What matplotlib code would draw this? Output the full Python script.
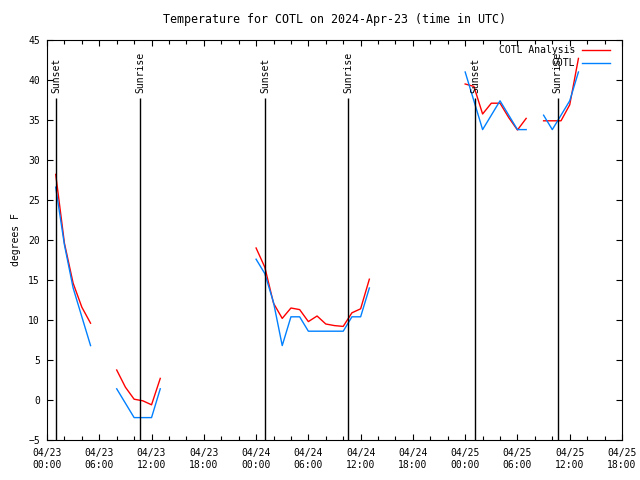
import numpy as np
import matplotlib
matplotlib.use("Agg")
import matplotlib.pyplot as plt
from matplotlib.lines import Line2D

nan = np.nan

# hours since 04/23 00:00 UTC
hours = np.arange(0, 62)

# COTL Analysis (red)
analysis = [nan, 28.2, 19.6, 14.6, 11.6, 9.6, nan, nan,
            3.75, 1.6, 0.1, -0.1, -0.6, 2.7,
            nan, nan, nan, nan, nan, nan, nan, nan, nan, nan,
            19.0, 16.6, 12.1, 10.2, 11.5, 11.3, 9.8, 10.5, 9.5, 9.3, 9.2, 10.9, 11.4, 15.1,
            nan, nan, nan, nan, nan, nan, nan, nan, nan, nan,
            39.5, 39.2, 35.75, 37.1, 37.1, 35.3, 33.75, 35.2,
            nan,
            34.9, 34.9, 34.9, 36.9, 42.7]

# COTL observations (blue)
obs = [nan, 26.6, 19.4, 14.0, 10.4, 6.8, nan, nan,
       1.4, -0.4, -2.2, -2.2, -2.2, 1.4,
       nan, nan, nan, nan, nan, nan, nan, nan, nan, nan,
       17.6, 15.8, 12.2, 6.8, 10.4, 10.4, 8.6, 8.6, 8.6, 8.6, 8.6, 10.4, 10.4, 14.0,
       nan, nan, nan, nan, nan, nan, nan, nan, nan, nan,
       41.0, 37.4, 33.8, 35.6, 37.4, 35.6, 33.8, 33.8,
       nan,
       35.6, 33.8, 35.6, 37.4, 41.0]

sun_times = [1.05, 10.68, 25.07, 34.6, 49.15, 58.62]
sun_labels = ["Sunset", "Sunrise", "Sunset", "Sunrise", "Sunset", "Sunrise"]

xtick_pos = list(range(0, 67, 6))
xtick_labels = ["04/23\n00:00", "04/23\n06:00", "04/23\n12:00", "04/23\n18:00",
                "04/24\n00:00", "04/24\n06:00", "04/24\n12:00", "04/24\n18:00",
                "04/25\n00:00", "04/25\n06:00", "04/25\n12:00", "04/25\n18:00"]

series = [("COTL Analysis", analysis, "#ff0000"), ("COTL", obs, "#0080ff")]

plt.rcParams['font.family'] = ['DejaVu Sans Mono']
plt.rcParams['font.size'] = 7

fig = plt.figure(figsize=(6.4, 4.8), dpi=100)
ax = fig.add_axes([47/640, 40/480, 575/640, 400/480])

for name, vals, col in series:
    ax.plot(hours, vals, color=col, lw=1)

# sunrise / sunset markers
ax.vlines(sun_times, -5, 37.75, color="black", lw=1)
for t, lab in zip(sun_times, sun_labels):
    ax.text(t, 38.4, lab, rotation=90, ha="center", va="bottom")

ax.set_xlim(0, 66)
ax.set_ylim(-5, 45)
ax.set_xticks(xtick_pos)
ax.set_xticklabels(xtick_labels)
ax.set_xticks(np.arange(0, 67, 2), minor=True)
ax.set_yticks(np.arange(-5, 46, 5))
ax.tick_params(which="both", direction="in", top=True, right=True, color="black")
ax.tick_params(which="major", length=4.5, width=0.8)
ax.tick_params(which="minor", length=3, width=0.8)
ax.tick_params(axis="x", pad=6)
ax.tick_params(axis="y", pad=5)
for s in ax.spines.values():
    s.set_linewidth(0.8)

ax.set_ylabel("degrees F", labelpad=5)
ax.set_title("Temperature for COTL on 2024-Apr-23 (time in UTC)", pad=12)

# key in the upper right, text right-aligned before the sample line
for i, (name, vals, col) in enumerate(series):
    y = 1 - (10 + 13 * i) / 400
    ax.text(575/575 - 47/575, y, name, transform=ax.transAxes, ha="right", va="center")
    ax.add_line(Line2D([535/575, 563/575], [y, y], transform=ax.transAxes, color=col, lw=1))

fig.savefig("out.png", dpi=100)
